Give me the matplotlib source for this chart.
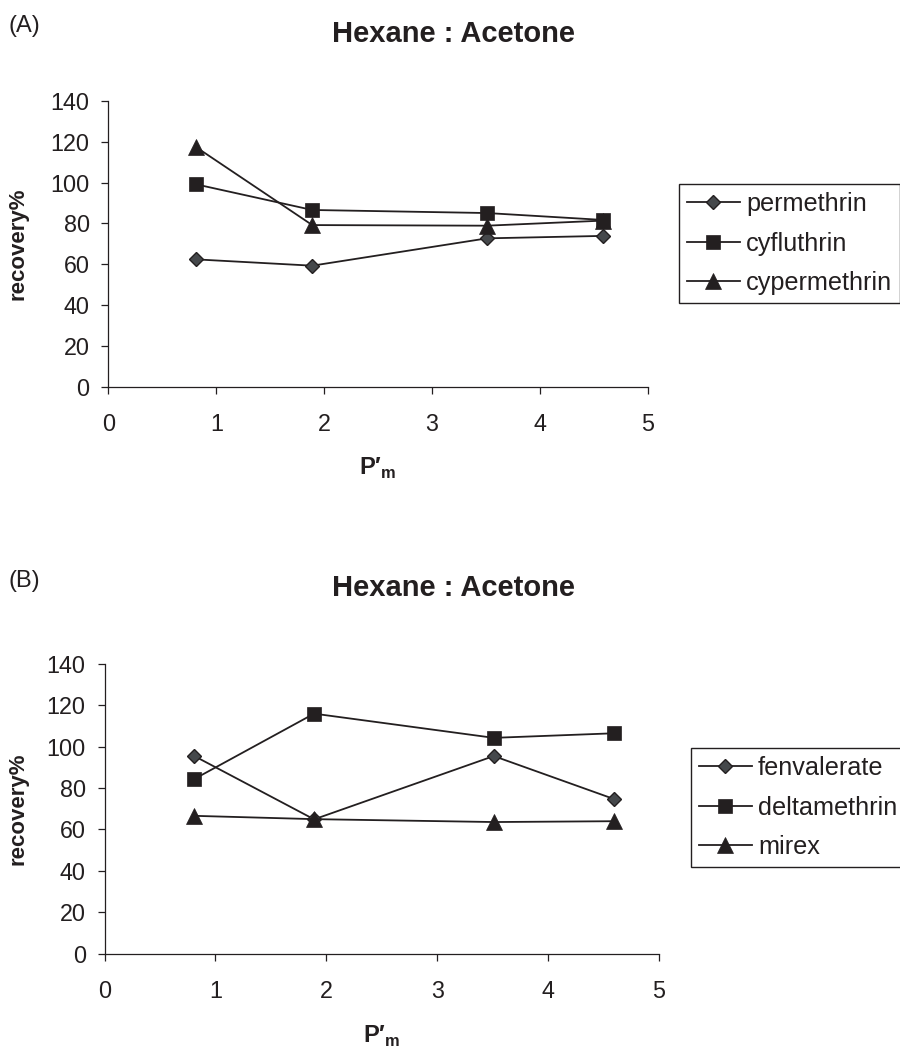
import matplotlib
matplotlib.use('Agg')
import matplotlib.pyplot as plt

plt.rcParams['font.family'] = ['Liberation Sans', 'DejaVu Sans']
plt.rcParams['mathtext.fontset'] = 'custom'
plt.rcParams['mathtext.rm'] = 'Liberation Sans'
plt.rcParams['mathtext.bf'] = 'Liberation Sans:bold'

# données
p_m = [0.81, 1.89, 3.51, 4.59]

noms_a = ['permethrin', 'cyfluthrin', 'cypermethrin']
permethrin = [62.4, 59.3, 72.7, 73.9]
cyfluthrin = [99.2, 86.6, 85.1, 81.7]
cypermethrin = [117.5, 79.2, 78.9, 81.4]

noms_b = ['fenvalerate', 'deltamethrin', 'mirex']
fenvalerate = [95.5, 64.9, 95.5, 74.8]
deltamethrin = [84.4, 116.0, 104.3, 106.5]
mirex = [66.6, 65.0, 63.6, 64.0]

y_ticks = [0, 20, 40, 60, 80, 100, 120, 140]
x_ticks = [0, 1, 2, 3, 4, 5]

noir = '#231f20'
gris = '#45484b'
styles = [
    dict(marker='D', ms=7, mfc=gris, mec=noir, mew=1.0),
    dict(marker='s', ms=10.5, mfc=noir, mec=noir, mew=0.5),
    dict(marker='^', ms=11, mfc=noir, mec=noir, mew=0.5),
]

W, H = 900, 1051
fig = plt.figure(figsize=(W / 100, H / 100), dpi=100)


def panneau(rect_px, series, noms, lettre, y_lettre, y_titre, leg_px, ylab_x, xlab_y):
    left, right, top, bottom = rect_px
    ax = fig.add_axes([left / W, 1 - bottom / H, (right - left) / W, (bottom - top) / H])
    for vals, nom, st in zip(series, noms, styles):
        ax.plot(p_m, vals, color=noir, lw=1.3, label=nom, clip_on=False, **st)
    ax.set_xlim(0, 5)
    ax.set_ylim(0, 140)
    ax.set_xticks(x_ticks)
    ax.set_yticks(y_ticks)
    for s in ['top', 'right']:
        ax.spines[s].set_visible(False)
    for s in ['left', 'bottom']:
        ax.spines[s].set_color(noir)
        ax.spines[s].set_linewidth(0.9)
    ax.tick_params(axis='both', direction='out', length=5, width=0.9, color=noir,
                   labelsize=16.8, labelcolor=noir)
    ax.tick_params(axis='x', pad=14)
    ax.tick_params(axis='y', pad=8.5)

    ax.set_ylabel('recovery%', fontsize=16, fontweight='bold', color=noir, va='center')
    ax.yaxis.set_label_coords((ylab_x - left) / (right - left), 0.5)
    ax.set_xlabel('P′$_\\mathbf{m}$', fontsize=17, fontweight='bold', color=noir, va='center')
    ax.xaxis.set_label_coords(0.5, (bottom - xlab_y) / (bottom - top))

    fig.text(8 / W, 1 - y_lettre / H, lettre, fontsize=17, color=noir, va='center', ha='left')
    fig.text(454 / W, 1 - y_titre / H, 'Hexane : Acetone', fontsize=21, fontweight='bold',
             color=noir, va='center', ha='center')

    leg = ax.legend(loc='upper left', bbox_to_anchor=(leg_px[0] / W, 1 - leg_px[1] / H),
                    bbox_transform=fig.transFigure, borderaxespad=0, fontsize=18.2,
                    frameon=True, fancybox=False, edgecolor=noir, framealpha=1,
                    handlelength=2.1, handletextpad=0.25, labelspacing=0.62,
                    borderpad=0.3)
    leg.get_frame().set_linewidth(1.0)
    for t in leg.get_texts():
        t.set_color(noir)
    return ax


panneau((108.4, 647.7, 101, 386.7), [permethrin, cyfluthrin, cypermethrin], noms_a,
        '(A)', 26, 33.5, (679.3, 184.3), 18, 468)
panneau((104.5, 659, 664, 953.6), [fenvalerate, deltamethrin, mirex], noms_b,
        '(B)', 581, 588, (691, 748.3), 18, 1036.7)

fig.savefig('out.png', dpi=100)
